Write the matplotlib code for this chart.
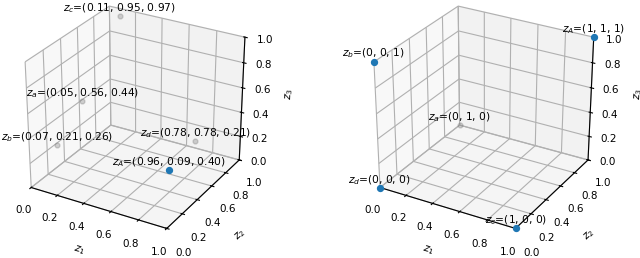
import numpy as np
import matplotlib
matplotlib.use("Agg")
import matplotlib.pyplot as plt

# left panel: learned codes
left_names = [r"$z_A$", r"$z_a$", r"$z_b$", r"$z_c$", r"$z_d$"]
left_pts = [(0.96, 0.09, 0.40), (0.05, 0.56, 0.44), (0.07, 0.21, 0.26),
            (0.11, 0.95, 0.97), (0.78, 0.78, 0.21)]
left_active = [True, False, False, False, False]

# right panel: ideal codes
right_names = [r"$z_A$", r"$z_a$", r"$z_b$", r"$z_c$", r"$z_d$"]
right_pts = [(1, 1, 1), (0, 1, 0), (0, 0, 1), (1, 0, 0), (0, 0, 0)]
right_active = [True, False, True, True, True]
right_fmt = "{:d}"
left_fmt = "{:.2f}"

fig = plt.figure(figsize=(6.4, 2.58), dpi=100)


def draw(ax, names, pts, active, fmt):
    for name, p, act in zip(names, pts, active):
        if act:
            ax.scatter(*p, color="C0", s=18, depthshade=False)
        else:
            ax.scatter(*p, color="grey", s=12, alpha=0.35, depthshade=False)
        label = name + "=(" + ", ".join(fmt.format(v) for v in p) + ")"
        ax.text(p[0], p[1], p[2] + 0.04, label, fontsize=7.7, ha="center")
    ax.set_xlim(0, 1)
    ax.set_ylim(0, 1)
    ax.set_zlim(0, 1)
    ax.set_box_aspect((1, 1, 1))
    ax.set_xlabel(r"$z_1$", fontsize=7.5, labelpad=0)
    ax.set_ylabel(r"$z_2$", fontsize=7.5, labelpad=4)
    ax.set_zlabel(r"$z_3$", fontsize=7.5, labelpad=1)
    ax.tick_params(labelsize=7.5, pad=1)
    ax.yaxis.set_tick_params(pad=3)
    # old-style 3d axes: fill the given box instead of forcing it square
    ax.apply_aspect = lambda position=None: None


ax1 = fig.add_axes([0.003, 0.082, 0.411, 0.934], projection="3d")
draw(ax1, left_names, left_pts, left_active, left_fmt)
ax2 = fig.add_axes([0.548, 0.082, 0.411, 0.934], projection="3d")
draw(ax2, right_names, right_pts, right_active, right_fmt)

plt.savefig("out.png", dpi=100)
